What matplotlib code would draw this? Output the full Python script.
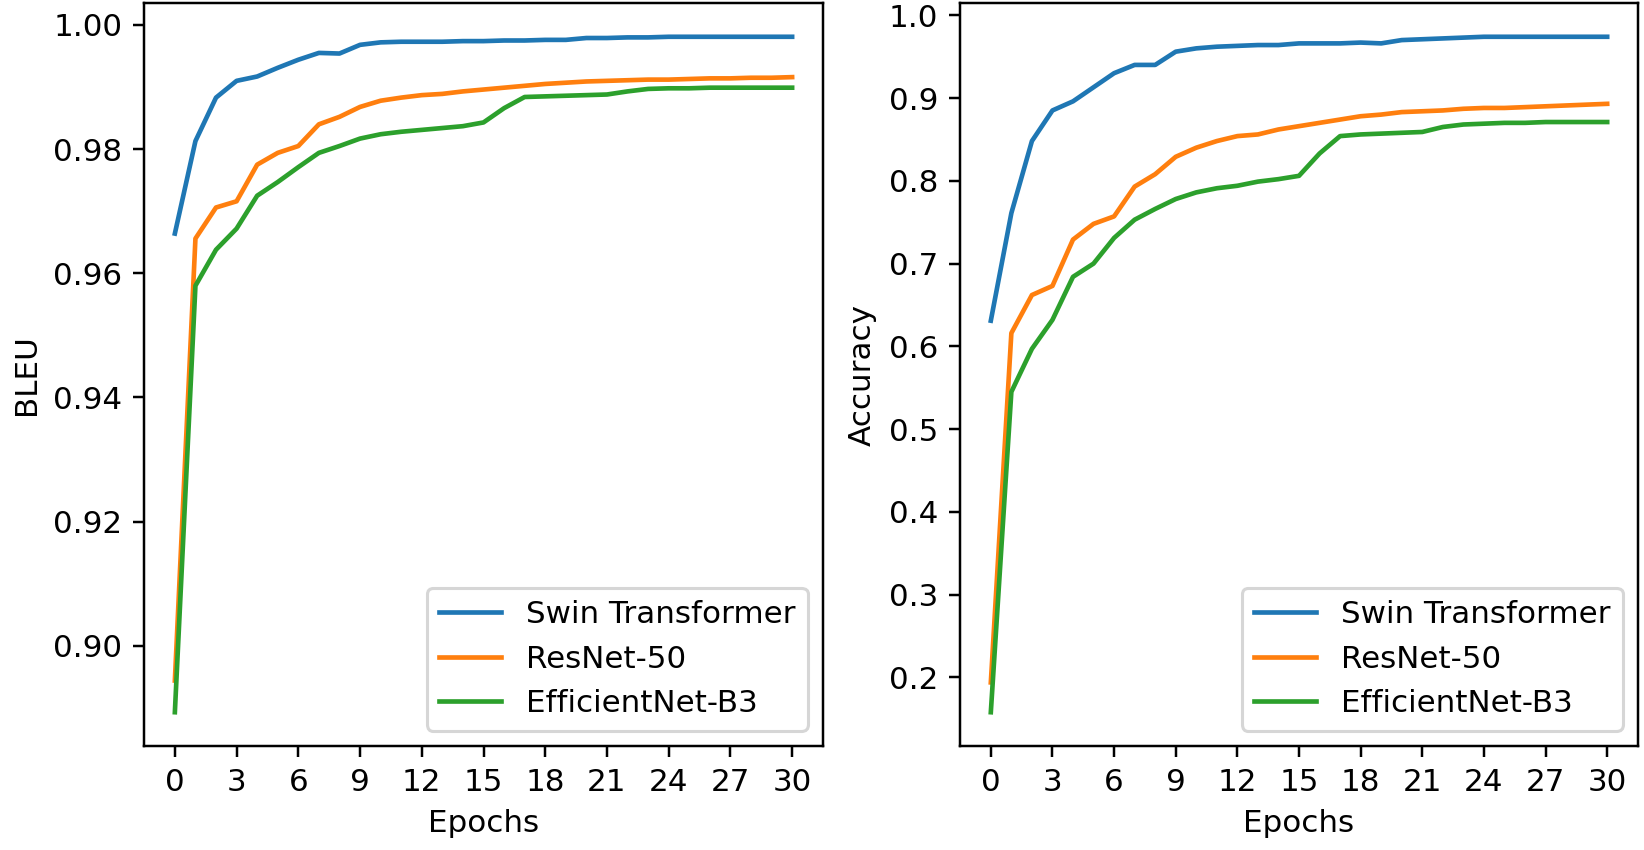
import numpy as np
from matplotlib import pyplot as plt

epochs = np.arange(0, 31)

# BLEU per epoch
bleu_swin = [0.9664, 0.9813, 0.9883, 0.9910, 0.9917, 0.9931, 0.9944, 0.9955, 0.9954, 0.9968,
             0.9972, 0.9973, 0.9973, 0.9973, 0.9974, 0.9974, 0.9975, 0.9975, 0.9976, 0.9976,
             0.9979, 0.9979, 0.9980, 0.9980, 0.9981, 0.9981, 0.9981, 0.9981, 0.9981, 0.9981, 0.9981]
bleu_resnet = [0.8944, 0.9656, 0.9706, 0.9716, 0.9775, 0.9794, 0.9805, 0.9840, 0.9852, 0.9868,
               0.9878, 0.9883, 0.9887, 0.9889, 0.9893, 0.9896, 0.9899, 0.9902, 0.9905, 0.9907,
               0.9909, 0.9910, 0.9911, 0.9912, 0.9912, 0.9913, 0.9914, 0.9914, 0.9915, 0.9915, 0.9916]
bleu_effnet = [0.8893, 0.9580, 0.9638, 0.9672, 0.9725, 0.9747, 0.9771, 0.9794, 0.9805, 0.9817,
               0.9824, 0.9828, 0.9831, 0.9834, 0.9837, 0.9843, 0.9866, 0.9884, 0.9885, 0.9886,
               0.9887, 0.9888, 0.9893, 0.9897, 0.9898, 0.9898, 0.9899, 0.9899, 0.9899, 0.9899, 0.9899]

# Accuracy per epoch
acc_swin = [0.631, 0.761, 0.848, 0.885, 0.896, 0.913, 0.930, 0.940, 0.940, 0.956,
            0.960, 0.962, 0.963, 0.964, 0.964, 0.966, 0.966, 0.966, 0.967, 0.966,
            0.970, 0.971, 0.972, 0.973, 0.974, 0.974, 0.974, 0.974, 0.974, 0.974, 0.974]
acc_resnet = [0.194, 0.616, 0.662, 0.673, 0.729, 0.748, 0.757, 0.793, 0.808, 0.829,
              0.840, 0.848, 0.854, 0.856, 0.862, 0.866, 0.870, 0.874, 0.878, 0.880,
              0.883, 0.884, 0.885, 0.887, 0.888, 0.888, 0.889, 0.890, 0.891, 0.892, 0.893]
acc_effnet = [0.158, 0.545, 0.597, 0.632, 0.684, 0.700, 0.731, 0.753, 0.766, 0.778,
              0.786, 0.791, 0.794, 0.799, 0.802, 0.806, 0.833, 0.854, 0.856, 0.857,
              0.858, 0.859, 0.865, 0.868, 0.869, 0.870, 0.870, 0.871, 0.871, 0.871, 0.871]

labels = ["Swin Transformer", "ResNet-50", "EfficientNet-B3"]
xticks = np.arange(0, 31, 3)
bleu_ticks = [0.90, 0.92, 0.94, 0.96, 0.98, 1.00]
acc_ticks = [0.2, 0.3, 0.4, 0.5, 0.6, 0.7, 0.8, 0.9, 1.0]

fig = plt.figure(figsize=(1644 / 223, 850 / 223), dpi=223)
ax1 = fig.add_axes([144 / 1644, 1 - 746 / 850, 679 / 1644, 743 / 850])
ax2 = fig.add_axes([960 / 1644, 1 - 746 / 850, 678 / 1644, 743 / 850])

# BLEU
ax1.plot(epochs, bleu_swin)
ax1.plot(epochs, bleu_resnet)
ax1.plot(epochs, bleu_effnet)
ax1.set_xticks(xticks)
ax1.set_yticks(bleu_ticks)
ax1.set_xlabel("Epochs")
ax1.set_ylabel("BLEU")
ax1.legend(labels, loc="lower right")

# Accuracy
ax2.plot(epochs, acc_swin)
ax2.plot(epochs, acc_resnet)
ax2.plot(epochs, acc_effnet)
ax2.set_xticks(xticks)
ax2.set_yticks(acc_ticks)
ax2.set_xlabel("Epochs")
ax2.set_ylabel("Accuracy")
ax2.legend(labels, loc="lower right")

fig.savefig("out.png", dpi=223)
